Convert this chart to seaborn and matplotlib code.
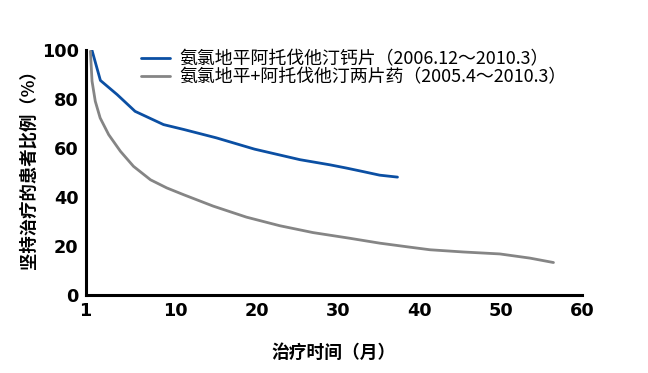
import pandas as pd
import matplotlib.pyplot as plt
import seaborn as sns

# Data (x in months, y in % still on treatment)
blue_x = [-0.3, 0.73, 2.8, 5.0, 8.5, 11.0, 15.0, 19.7, 25.3, 29.0, 31.0, 33.0, 35.1, 37.3]
blue_y = [99.8, 87.6, 81.8, 75.0, 69.6, 67.6, 64.2, 59.6, 55.3, 53.2, 51.9, 50.5, 49.0, 48.2]

gray_x = [-0.5, -0.3, 0.1, 0.7, 1.75, 3.2, 4.8, 6.9, 8.9, 11.0, 14.6, 18.7, 22.8,
          26.9, 31.4, 35.1, 38.5, 41.3, 45.4, 49.9, 53.6, 56.5]
gray_y = [99.5, 87.3, 79.1, 72.3, 65.5, 58.7, 52.6, 47.1, 43.8, 41.0, 36.4, 31.9, 28.4,
          25.6, 23.3, 21.3, 19.8, 18.6, 17.7, 16.9, 15.2, 13.4]

labels = ['氨氯地平阿托伐他汀钙片（2006.12～2010.3）',
          '氨氯地平+阿托伐他汀两片药（2005.4～2010.3）']
colors = ['#0B4FA3', '#858585']

x_ticks = [-1.1, 10, 20, 30, 40, 50, 60]
x_ticklabels = ['1', '10', '20', '30', '40', '50', '60']
y_ticks = [0, 20, 40, 60, 80, 100]

sns.set_style('white')
plt.rcParams['font.family'] = ['Noto Sans CJK SC', 'DejaVu Sans']
plt.rcParams['text.color'] = 'black'

df = pd.concat([
    pd.DataFrame({'x': blue_x, 'y': blue_y, 'series': labels[0]}),
    pd.DataFrame({'x': gray_x, 'y': gray_y, 'series': labels[1]}),
])

fig = plt.figure(figsize=(6.48, 3.73), dpi=100)
ax = fig.add_axes([0.132, 0.208, 0.766, 0.658])

sns.lineplot(data=df, x='x', y='y', hue='series', palette=colors, sort=False,
             linewidth=2.0, ax=ax, legend=True)

ax.set_xlim(-1.1, 60)
ax.set_ylim(0, 100)
ax.set_xticks(x_ticks)
ax.set_xticklabels(x_ticklabels)
ax.set_yticks(y_ticks)
for lab in ax.get_xticklabels() + ax.get_yticklabels():
    lab.set_fontweight('bold')
    lab.set_fontsize(12.7)
    lab.set_family('DejaVu Sans')
    lab.set_color('black')
ax.tick_params(axis='both', direction='out', length=4, width=2, pad=1, color='black')

ax.set_xlabel('治疗时间（月）', fontsize=12.8, fontweight='bold', labelpad=17, color='black')
ax.set_ylabel('坚持治疗的患者比例（%）', fontsize=12.5, fontweight='bold', color='black')
ax.yaxis.set_label_coords(-0.097, 0.53)

ax.spines[['top', 'right']].set_visible(False)
for s in ['left', 'bottom']:
    ax.spines[s].set_linewidth(2.2)
    ax.spines[s].set_color('black')

handles, _ = ax.get_legend_handles_labels()
ax.get_legend().remove()
leg = fig.legend(handles, labels, loc='upper left', bbox_to_anchor=(0.218, 0.865),
                 frameon=False, fontsize=12.9, borderpad=0, borderaxespad=0,
                 handlelength=1.6, handletextpad=0.55, labelspacing=0.0)
for t in leg.get_texts():
    t.set_color('black')

fig.savefig('out.png', dpi=100)
